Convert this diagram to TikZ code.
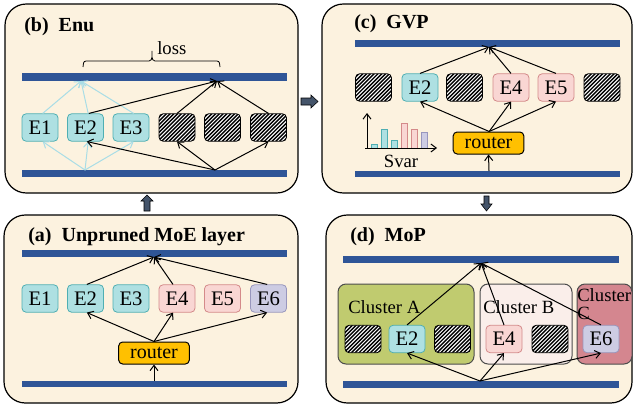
\documentclass[tikz,border=0pt]{standalone}
\usepackage{fontspec}
\setmainfont{Liberation Serif}
\usetikzlibrary{arrows.meta,calc}

\definecolor{panelbg}{HTML}{FCF2DF}
\definecolor{barblue}{HTML}{2F5597}
\definecolor{cyanfill}{HTML}{AEE0E2}
\definecolor{cyanline}{HTML}{4FAFB3}
\definecolor{pinkfill}{HTML}{F9D6D3}
\definecolor{pinkline}{HTML}{D48A8A}
\definecolor{lavfill}{HTML}{CDCCE3}
\definecolor{lavline}{HTML}{9896BD}
\definecolor{routerfill}{HTML}{FFC000}
\definecolor{ghost}{HTML}{A9DDE6}
\definecolor{clusterA}{HTML}{C0CB6F}
\definecolor{clusterB}{HTML}{FAEEEA}
\definecolor{clusterC}{HTML}{D4868F}
\definecolor{blockfill}{HTML}{44546A}

\tikzset{
  panel/.style={draw=black, line width=0.9pt, fill=panelbg, rounded corners=16pt},
  bar/.style={fill=barblue},
  title/.style={anchor=west, inner sep=0pt, font=\bfseries\fontsize{15}{15}\selectfont},
  label/.style={inner sep=0pt, font=\fontsize{14}{14}\selectfont},
  expert/.style={draw, rounded corners=3pt, minimum width=27pt, minimum height=20.5pt,
    inner sep=0pt, line width=0.6pt, font=\fontsize{15.5}{15.5}\selectfont},
  cyanexp/.style={expert, fill=cyanfill, draw=cyanline},
  pinkexp/.style={expert, fill=pinkfill, draw=pinkline},
  lavexp/.style={expert, fill=lavfill, draw=lavline},
  hatched/.style={expert, fill=white, draw=black,
    path picture={
      \foreach \k in {-9,...,10}
        \draw[line width=1.05pt]
          ($(path picture bounding box.south west)+(\k*2.85pt,-2pt)$) -- ++(28pt,28pt);
    }},
  router/.style={draw=black, fill=routerfill, rounded corners=3pt, line width=0.75pt,
    minimum width=53pt, minimum height=16.5pt, inner sep=0pt,
    font=\fontsize{15}{15}\selectfont},
  conn/.style={-{Straight Barb[length=4pt,width=6pt]}, line width=0.75pt},
  ghostconn/.style={conn, draw=ghost},
  cluster/.style={draw=black!70, line width=0.75pt, rounded corners=6pt},
  blockarrow/.style={fill=blockfill, draw=black, line width=0.4pt},
  histbar/.style={line width=0.5pt},
}

\begin{document}
\begin{tikzpicture}[x=0.75pt, y=-0.75pt]
\useasboundingbox (0,0) rectangle (634,410);

% ---------- (b) Enu ----------
\draw[panel] (5,4) rectangle (298,193);
\node[title] (btitle) at (24,27) {(b)~~Enu};
\fill[bar] (22,73) rectangle (287,81);
\fill[bar] (22,170) rectangle (287,177);
\node[cyanexp] (bE1) at (40,127.5) {E1};
\node[cyanexp] (bE2) at (85.5,127.5) {E2};
\node[cyanexp] (bE3) at (131,127.5) {E3};
\node[hatched] (bH1) at (177,127.5) {};
\node[hatched] (bH2) at (222.5,127.5) {};
\node[hatched] (bH3) at (268.5,127.5) {};
\coordinate (bT1) at (81,81);
\coordinate (bT2) at (217,81);
\coordinate (bB1) at (85,170);
\coordinate (bB2) at (215,170);
\foreach \e in {bE1,bE2,bE3} {
  \draw[ghostconn] (bB1) -- ([xshift=2pt]\e.south);
  \draw[ghostconn] ([xshift=2pt]\e.north) -- (bT1);
}
\draw[conn] (bB2) -- ([xshift=1pt]bE2.south);
\draw[conn] (bB2) -- (bH1.south);
\draw[conn] (bB2) -- (bH3.south);
\draw[conn] ([xshift=2.5pt]bE2.north) -- (bT2);
\draw[conn] (bH1.north) -- (bT2);
\draw[conn] (bH3.north) -- (bT2);
% brace over the enumerated span
\draw[line width=0.6pt]
  (83,67) to[out=90,in=180] (86,61) -- (149,61) to[out=0,in=-90] (152,57) -- (152,51)
  (152,57) to[out=-90,in=180] (155,61) -- (217,61) to[out=0,in=90] (220,67);
\node[label, anchor=west] (loss) at (157,48) {loss};

% ---------- (c) GVP ----------
\draw[panel] (322,4) rectangle (632,193);
\node[title] (ctitle) at (354,24) {(c)~~GVP};
\fill[bar] (355,40) rectangle (620,47);
\fill[bar] (355,171) rectangle (620,177);
\node[hatched] (cH1) at (373.5,87.5) {};
\node[cyanexp] (cE2) at (420,87.5) {E2};
\node[hatched] (cH2) at (464.5,87.5) {};
\node[pinkexp] (cE4) at (511,87.5) {E4};
\node[pinkexp] (cE5) at (556,87.5) {E5};
\node[hatched] (cH3) at (602,87.5) {};
\node[router] (cR) at (488.5,143) {router};
\coordinate (cT) at (489,47);
\coordinate (cB) at (489,171);
\draw[conn] (cB) -- (cR.south);
\foreach \e in {cE2,cE4,cE5} {
  \draw[conn] ([xshift=0.5pt]cR.north) -- (\e.south);
  \draw[conn] (\e.north) -- (cT);
}
% score-variance histogram
\coordinate (hO) at (367,148);
\coordinate (hY) at (367,113);
\coordinate (hX) at (437,148);
\draw[histbar, fill=cyanfill, draw=cyanline] (371,148) rectangle (377,144);
\draw[histbar, fill=cyanfill, draw=cyanline] (381,148) rectangle (387,129);
\draw[histbar, fill=cyanfill, draw=cyanline] (391,148) rectangle (397,140);
\draw[histbar, fill=pinkfill, draw=pinkline] (401,148) rectangle (407,123);
\draw[histbar, fill=pinkfill, draw=pinkline] (411,148) rectangle (417,129);
\draw[histbar, fill=lavfill, draw=lavline] (421,148) rectangle (427,132);
\draw[conn] (hO) -- (hY);
\draw[conn] ([xshift=-1.5pt]hO) -- (hX);
\node[label] (svar) at (401,161) {Svar};

% ---------- (a) Unpruned MoE layer ----------
\draw[panel] (4,215) rectangle (298,403);
\node[title] (atitle) at (28,237) {(a)~~Unpruned MoE layer};
\fill[bar] (22,250) rectangle (287,257);
\fill[bar] (22,381) rectangle (287,387);
\node[cyanexp] (aE1) at (40,298.5) {E1};
\node[cyanexp] (aE2) at (85.5,298.5) {E2};
\node[cyanexp] (aE3) at (131,298.5) {E3};
\node[pinkexp] (aE4) at (177,298.5) {E4};
\node[pinkexp] (aE5) at (222.5,298.5) {E5};
\node[lavexp] (aE6) at (268.5,298.5) {E6};
\node[router] (aR) at (154,353) {router};
\coordinate (aT) at (154,257);
\coordinate (aB) at (154,381);
\draw[conn] (aB) -- (aR.south);
\draw[conn] (aR.north) -- ([xshift=1pt]aE2.south);
\draw[conn] (aR.north) -- ([xshift=-3pt]aE4.south);
\draw[conn] (aR.north) -- ([xshift=-1pt]aE6.south);
\draw[conn] ([xshift=1pt]aE2.north) -- (aT);
\draw[conn] ([xshift=-3pt]aE4.north) -- (aT);
\draw[conn] ([xshift=-1pt]aE6.north) -- (aT);

% ---------- (d) MoP ----------
\draw[panel] (326,215) rectangle (632,403);
\node[title] (dtitle) at (350,237) {(d)~~MoP};
\fill[bar] (343,256) rectangle (619,263);
\fill[bar] (343,381) rectangle (619,388);
\draw[cluster, fill=clusterA] (338,284) rectangle (474,364);
\draw[cluster, fill=clusterB] (480,284) rectangle (572,364);
\draw[cluster, fill=clusterC] (577,284) rectangle (632,364);
\node[label, anchor=west] (cA) at (348,307) {Cluster A};
\node[label, anchor=west] (cB) at (483,307) {Cluster B};
\node[label, anchor=north west, align=left, font=\fontsize{14}{13.5}\selectfont]
  (cC) at (577,288) {Cluster\\C};
\node[hatched] (dH1) at (363,339) {};
\node[cyanexp] (dE2) at (407,339) {E2};
\node[hatched] (dH2) at (452.5,339) {};
\node[pinkexp] (dE4) at (504,339) {E4};
\node[hatched] (dH3) at (550,339) {};
\node[lavexp] (dE6) at (601,339) {E6};
\coordinate (dT) at (481,263);
\coordinate (dB) at (480,381);
\foreach \e in {dE2,dE4,dE6} {
  \draw[conn] (dB) -- (\e.south);
  \draw[conn] (\e.north) -- (dT);
}

% ---------- block arrows between panels ----------
\draw[blockarrow] (301,98) -- (311,98) -- (311,95) -- (318,101.5) -- (311,108)
  -- (311,105) -- (301,105) -- cycle;
\draw[blockarrow] (144,211) -- (144,201) -- (141,201) -- (147,195) -- (153,201)
  -- (150,201) -- (150,211) -- cycle;
\draw[blockarrow] (484,196) -- (484,204) -- (481,204) -- (486.5,211) -- (492,204)
  -- (489,204) -- (489,196) -- cycle;
\end{tikzpicture}
\end{document}
